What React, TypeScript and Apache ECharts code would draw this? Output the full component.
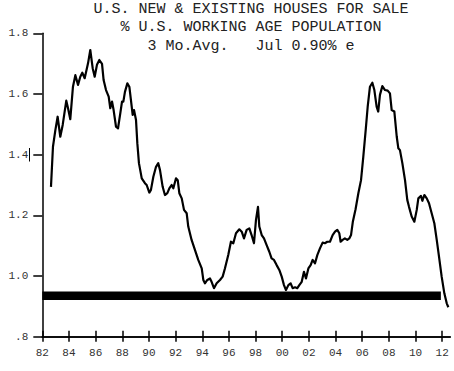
import React, { useEffect, useRef } from "react";
import * as echarts from "echarts";

const titleLines = [
  "U.S. NEW & EXISTING HOUSES FOR SALE",
  "% U.S. WORKING AGE POPULATION",
  "3 Mo.Avg.   Jul 0.90% e",
];

const years = [
  1982.65, 1982.8, 1982.98, 1983.15, 1983.35, 1983.53, 1983.8, 1983.93, 1984.1, 1984.3,
  1984.48, 1984.68, 1984.85, 1985.0, 1985.18, 1985.43, 1985.6, 1985.78, 1985.93, 1986.1,
  1986.28, 1986.48, 1986.6, 1986.78, 1986.98, 1987.1, 1987.23, 1987.35, 1987.53, 1987.68,
  1987.85, 1987.98, 1988.08, 1988.2, 1988.38, 1988.53, 1988.65, 1988.78, 1988.88, 1989.03,
  1989.13, 1989.25, 1989.46, 1989.7, 1989.83, 1990.03, 1990.15, 1990.33, 1990.53, 1990.7,
  1990.83, 1991.03, 1991.2, 1991.38, 1991.53, 1991.7, 1991.83, 1992.03, 1992.16, 1992.28,
  1992.46, 1992.63, 1992.83, 1992.95, 1993.2, 1993.45, 1993.7, 1993.96, 1994.08, 1994.2,
  1994.38, 1994.58, 1994.7, 1994.88, 1995.08, 1995.33, 1995.53, 1995.7, 1995.95, 1996.15,
  1996.33, 1996.53, 1996.78, 1996.96, 1997.13, 1997.33, 1997.53, 1997.7, 1997.88, 1998.03,
  1998.18, 1998.28, 1998.46, 1998.63, 1998.83, 1999.03, 1999.2, 1999.38, 1999.58, 1999.78,
  1999.96, 2000.13, 2000.28, 2000.46, 2000.63, 2000.78, 2000.96, 2001.13, 2001.28, 2001.46,
  2001.63, 2001.78, 2001.96, 2002.13, 2002.28, 2002.46, 2002.63, 2002.83, 2003.03, 2003.2,
  2003.38, 2003.58, 2003.78, 2003.96, 2004.13, 2004.28, 2004.38, 2004.53, 2004.7, 2004.88,
  2005.03, 2005.16, 2005.3, 2005.5, 2005.71, 2005.91, 2006.08, 2006.26, 2006.41, 2006.58,
  2006.76, 2006.91, 2007.08, 2007.2, 2007.33, 2007.51, 2007.71, 2007.91, 2008.08, 2008.21,
  2008.41, 2008.59, 2008.71, 2008.83, 2009.01, 2009.21, 2009.38, 2009.51, 2009.71, 2009.91,
  2010.09, 2010.21, 2010.41, 2010.51, 2010.66, 2010.84, 2011.01, 2011.21, 2011.41, 2011.59,
  2011.76, 2011.96, 2012.16, 2012.34, 2012.46,
];

const values = [
  1.294, 1.426, 1.481, 1.525, 1.459, 1.498, 1.578, 1.553, 1.517, 1.624,
  1.662, 1.63, 1.657, 1.67, 1.652, 1.701, 1.745, 1.685, 1.657, 1.696,
  1.712, 1.699, 1.646, 1.613, 1.591, 1.553, 1.575, 1.547, 1.492, 1.487,
  1.536, 1.575, 1.575, 1.607, 1.635, 1.624, 1.58, 1.531, 1.547, 1.514,
  1.437, 1.372, 1.322, 1.306, 1.3, 1.275, 1.284, 1.327, 1.36, 1.372,
  1.349, 1.294, 1.267, 1.273, 1.289, 1.3, 1.289, 1.322, 1.316, 1.273,
  1.256, 1.218, 1.207, 1.163, 1.119, 1.086, 1.053, 1.025, 0.987, 0.976,
  0.987, 0.992, 0.981, 0.96, 0.976, 0.987, 0.998, 1.025, 1.069, 1.113,
  1.108, 1.141, 1.154, 1.146, 1.124, 1.152, 1.157, 1.135, 1.108, 1.185,
  1.228, 1.163, 1.135, 1.124, 1.102, 1.08, 1.058, 1.053, 1.036, 1.02,
  0.998, 0.97, 0.954, 0.97, 0.976, 0.96, 0.963, 0.96, 0.97, 0.981,
  1.014, 0.992, 1.025, 1.036, 1.053, 1.042, 1.069, 1.091, 1.11, 1.108,
  1.113, 1.113, 1.135, 1.146, 1.152, 1.141, 1.113, 1.119, 1.124, 1.119,
  1.124, 1.135, 1.18, 1.22, 1.273, 1.316, 1.393, 1.481, 1.558, 1.624,
  1.637, 1.613, 1.558, 1.542, 1.597, 1.626, 1.613, 1.611, 1.602, 1.547,
  1.542, 1.459, 1.421, 1.415, 1.372, 1.316, 1.251, 1.228, 1.196, 1.179,
  1.218, 1.256, 1.264, 1.248, 1.267, 1.256, 1.24, 1.207, 1.174, 1.119,
  1.064, 0.998, 0.943, 0.91, 0.897,
];

const avgYears = [1982, 2011.9];
const avgValues = [0.935, 0.935];

const xTickYears = [
  1982, 1984, 1986, 1988, 1990, 1992, 1994, 1996, 1998, 2000, 2002, 2004, 2006, 2008, 2010, 2012,
];
const yTicks = [0.8, 1.0, 1.2, 1.4, 1.6, 1.8];

const FONT = "'Liberation Mono', 'Courier New', monospace";

export default function App() {
  const ref = useRef<HTMLDivElement>(null);
  useEffect(() => {
    if (!ref.current) return;
    const chart = echarts.init(ref.current, null, { renderer: "svg" });
    const lineData = years.map((y, i) => [y, values[i]]);
    const avgData = avgYears.map((y, i) => [y, avgValues[i]]);
    const xBase = {
      type: "value",
      min: 1982,
      max: 2012.6,
      position: "bottom",
      gridIndex: 0,
      splitLine: { show: false },
      axisLine: { show: true, lineStyle: { color: "#000", width: 1.5 } },
    };
    chart.setOption({
      animation: false,
      backgroundColor: "#fff",
      title: {
        text: titleLines.join("\n"),
        left: 251,
        top: 0,
        textAlign: "center",
        padding: 0,
        textStyle: {
          fontFamily: FONT,
          fontSize: 15,
          fontWeight: "normal",
          lineHeight: 18.5,
          color: "#222",
        },
      },
      grid: {
        left: 42.3,
        top: 33.3,
        width: 407.9,
        height: 303.4,
        containLabel: false,
        outerBoundsMode: "none",
      },
      xAxis: [
        {
          ...xBase,
          axisTick: {
            show: true,
            inside: false,
            length: 5,
            customValues: xTickYears,
            lineStyle: { color: "#000", width: 1.5 },
          },
          axisLabel: {
            show: true,
            customValues: xTickYears,
            margin: 11,
            fontFamily: FONT,
            fontSize: 11,
            color: "#333",
            formatter: (v: number) => String(Math.round(v) % 100).padStart(2, "0"),
          },
        },
        {
          ...xBase,
          axisTick: {
            show: true,
            inside: true,
            length: 6,
            customValues: xTickYears,
            lineStyle: { color: "#000", width: 1.5 },
          },
          axisLabel: { show: false },
        },
      ],
      yAxis: {
        type: "value",
        min: 0.8,
        max: 1.8,
        interval: 0.2,
        splitLine: { show: false },
        axisLine: { show: true, lineStyle: { color: "#000", width: 1.5 } },
        axisTick: {
          show: true,
          inside: false,
          length: 9,
          customValues: yTicks,
          lineStyle: { color: "#000", width: 1.5 },
        },
        axisLabel: {
          margin: 14,
          customValues: yTicks,
          fontFamily: FONT,
          fontSize: 11,
          color: "#333",
          formatter: (v: number) => v.toFixed(1).replace(/^0/, ""),
        },
      },
      graphic: [
        {
          type: "line",
          shape: { x1: 29.5, y1: 148, x2: 29.5, y2: 161.5 },
          style: { stroke: "#000", lineWidth: 1 },
        },
      ],
      series: [
        {
          type: "line",
          xAxisIndex: 0,
          data: avgData,
          symbol: "none",
          silent: true,
          lineStyle: { color: "#000", width: 8.5, cap: "butt" },
        },
        {
          type: "line",
          xAxisIndex: 0,
          data: lineData,
          symbol: "none",
          lineStyle: { color: "#000", width: 2.2, join: "round" },
        },
      ],
    });
    return () => chart.dispose();
  }, []);
  return (
    <div
      ref={ref}
      style={{ position: "absolute", left: 0, top: 0, width: 454, height: 371, background: "#fff" }}
    />
  );
}
